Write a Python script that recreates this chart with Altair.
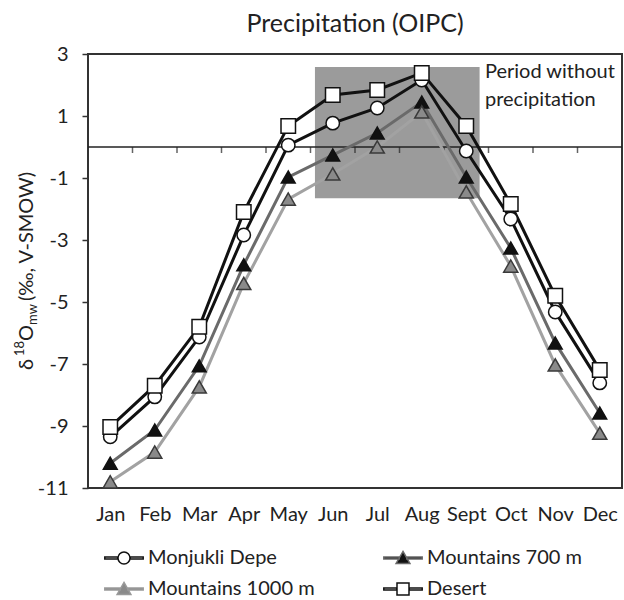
import json
import altair as alt
import pandas as pd

# ---------------- data ----------------
months = ["Jan", "Feb", "Mar", "Apr", "May", "Jun", "Jul", "Aug", "Sept", "Oct", "Nov", "Dec"]
series_names = ["Monjukli Depe", "Mountains 700 m", "Mountains 1000 m", "Desert"]
monjukli = [-9.35, -8.06, -6.13, -2.84, 0.06, 0.77, 1.26, 2.16, -0.13, -2.32, -5.32, -7.61]
mtn700 = [-10.2, -9.13, -7.06, -3.8, -0.97, -0.26, 0.45, 1.45, -0.97, -3.26, -6.32, -8.58]
mtn1000 = [-10.8, -9.84, -7.74, -4.4, -1.68, -0.87, 0.0, 1.13, -1.45, -3.84, -7.03, -9.23]
desert = [-9.03, -7.7, -5.8, -2.1, 0.68, 1.68, 1.84, 2.39, 0.68, -1.84, -4.8, -7.19]
y_ticks = [-11, -9, -7, -5, -3, -1, 1, 3]

# dry-period box (month index / value units)
dry_x = [5.6, 9.3]
dry_y = [-1.65, 2.58]

FONT = "Lato"
FS = 20

rows = []
for name, vals in zip(series_names, [monjukli, mtn700, mtn1000, desert]):
    for i, v in enumerate(vals):
        rows.append({"m": i + 1, "v": v, "series": name})
df = pd.DataFrame(rows)

line_colors = ["#111111", "#6a6a6a", "#a2a2a2", "#111111"]
fill_colors = ["#ffffff", "#111111", "#8a8a8a", "#ffffff"]
stroke_colors = ["#111111", "#111111", "#3a3a3a", "#111111"]
shapes = ["circle", "triangle-up", "triangle-up", "square"]
sizes = [180, 210, 210, 165]

xscale = alt.Scale(domain=[0.5, 12.5], nice=False, zero=False)
yscale = alt.Scale(domain=[-11, 3], nice=False, zero=False)

label_expr = json.dumps(months) + "[datum.value - 1]"

xenc = alt.X("m:Q", scale=xscale,
             axis=alt.Axis(values=list(range(1, 13)), labelExpr=label_expr, ticks=False,
                           domain=False, grid=False, title=None, labelFont=FONT,
                           labelFontSize=FS, labelColor="#222", labelPadding=16))
yenc = alt.Y("v:Q", scale=yscale,
             axis=alt.Axis(values=y_ticks, grid=False, title=None, domain=False,
                           labelExpr="'' + datum.value",
                           tickSize=6, tickColor="#333", tickWidth=1.5, labelFont=FONT,
                           labelFontSize=FS, labelColor="#222", labelPadding=14))

# box
box_df = pd.DataFrame({"m": [dry_x[0]], "m2": [dry_x[1]], "v": [dry_y[0]], "v2": [dry_y[1]]})
box = alt.Chart(box_df).mark_rect(color="#9b9b9b", opacity=1).encode(
    x=xenc, x2="m2:Q", y=yenc, y2="v2:Q")

# zero line + ticks
zero = alt.Chart(pd.DataFrame({"v": [0]})).mark_rule(color="#222", strokeWidth=1.5).encode(y=yenc)
tick_df = pd.DataFrame({"m": [i + 0.5 for i in range(1, len(months))], "v": [0] * (len(months) - 1)})
zticks = alt.Chart(tick_df).mark_tick(orient="vertical", color="#222", size=6, thickness=1.5,
                                      yOffset=3).encode(x=xenc, y=yenc)

# lines
lines = alt.Chart(df).mark_line(strokeWidth=3).encode(
    x=xenc, y=yenc,
    stroke=alt.Stroke("series:N", scale=alt.Scale(domain=series_names, range=line_colors), legend=None),
    detail="series:N")

points = alt.Chart(df).mark_point(filled=True, strokeWidth=1.5, opacity=1).encode(
    x=xenc, y=yenc,
    shape=alt.Shape("series:N", scale=alt.Scale(domain=series_names, range=shapes), legend=None),
    fill=alt.Fill("series:N", scale=alt.Scale(domain=series_names, range=fill_colors), legend=None),
    stroke=alt.Stroke("series:N", scale=alt.Scale(domain=series_names, range=stroke_colors), legend=None),
    size=alt.Size("series:N", scale=alt.Scale(domain=series_names, range=sizes), legend=None),
)

# legend-only layer: symbol = line segment + marker
seg = "M-3.2,-0.15H-1.05V0.15H-3.2ZM1.05,-0.15H3.2V0.15H1.05Z"
seg_t = "M-3.2,-0.15H-0.62V0.15H-3.2ZM0.62,-0.15H3.2V0.15H0.62Z"
leg_paths = [
    seg + "M-1,0A1,1,0,1,1,1,0A1,1,0,1,1,-1,0Z",
    seg_t + "M0,-1.1L1.15,0.9L-1.15,0.9Z",
    seg_t + "M0,-1.1L1.15,0.9L-1.15,0.9Z",
    seg + "M-1,-1H1V1H-1Z",
]
leg_strokes = ["#111111", "#6a6a6a", "#9a9a9a", "#111111"]
leg = alt.Legend(title=None, orient="none", legendX=26, legendY=494, columns=2,
                 direction="horizontal", symbolSize=144, labelFont=FONT,
                 labelFontSize=FS, labelColor="#222", labelOffset=14, labelLimit=300,
                 columnPadding=65, rowPadding=11, padding=0, symbolStrokeWidth=1.5,
                 symbolOpacity=1)
legend_layer = alt.Chart(df).transform_filter("false").mark_point(filled=True, opacity=1).encode(
    x=xenc, y=yenc,
    shape=alt.Shape("series:N", scale=alt.Scale(domain=series_names, range=leg_paths), legend=leg),
    fill=alt.Fill("series:N", scale=alt.Scale(domain=series_names, range=fill_colors), legend=leg),
    stroke=alt.Stroke("series:N", scale=alt.Scale(domain=series_names, range=leg_strokes), legend=leg),
)

# annotation
note = alt.Chart(pd.DataFrame({"m": [9.42], "v": [2.74], "t": [["Period without", "precipitation"]]})).mark_text(
    align="left", baseline="top", font=FONT, fontSize=FS, color="#222", lineHeight=28).encode(
    x=xenc, y=yenc, text="t")

# y title pieces (rotated)
yt_pieces = ["δ", "18", "O", "mw", "(‰, V-SMOW)"]
yt_dx = [0, 14, 29, 45, 69]
yt_dy = [0, -7, 0, 6, 0]
yt_fs = [FS, 13, FS, 13, FS]
ytitle_layers = []
for t, dx, dy, fs in zip(yt_pieces, yt_dx, yt_dy, yt_fs):
    ytitle_layers.append(
        alt.Chart(pd.DataFrame({"t": [t]})).mark_text(
            angle=270, align="left", baseline="middle", font=FONT, fontSize=fs,
            color="#222", dx=dx, dy=dy).encode(
            x=alt.value(-61), y=alt.value(316), text="t:N"))

chart = alt.layer(box, zero, zticks, lines, points, legend_layer, note, *ytitle_layers).resolve_scale(
    stroke="independent", fill="independent", shape="independent"
).properties(
    width=534, height=434,
    title=alt.TitleParams("Precipitation (OIPC)", font=FONT, fontSize=25, fontWeight="normal",
                          color="#222", anchor="middle", offset=7),
    padding={"left": 88, "top": 54, "right": 2, "bottom": 112},
    autosize=alt.AutoSizeParams(type="none"),
).configure_view(stroke="#333", strokeWidth=2)

chart.save("out.html", embed_options={"renderer": "svg", "actions": False})
